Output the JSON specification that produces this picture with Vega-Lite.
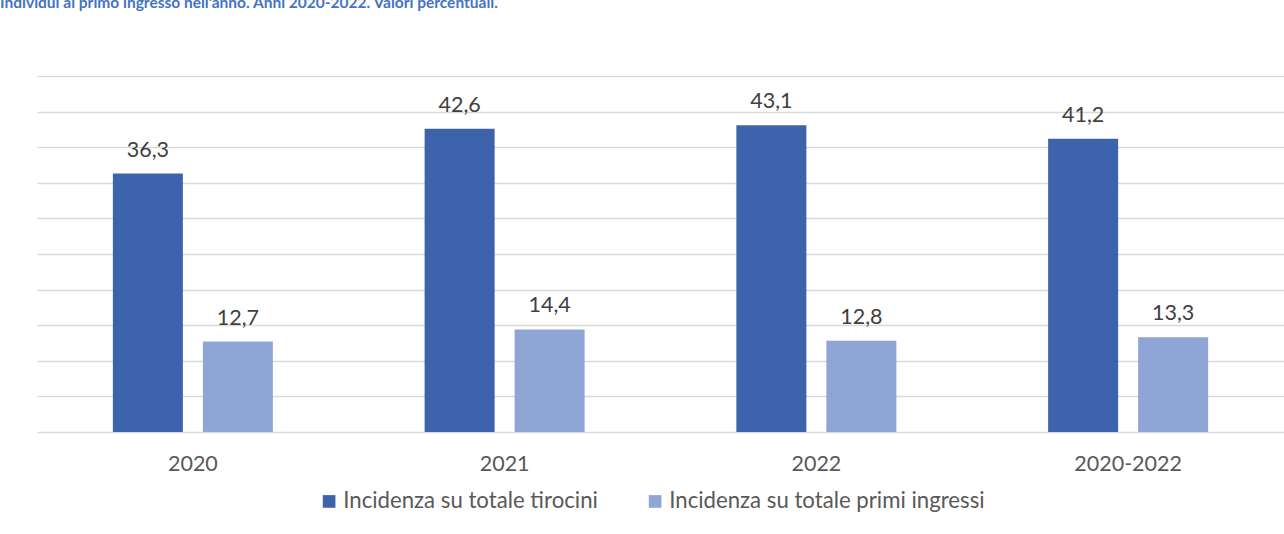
{
  "$schema": "https://vega.github.io/schema/vega-lite/v6.json",
  "autosize": {"type": "none"},
  "width": 1247,
  "height": 356,
  "padding": {"left": 37, "top": 76, "right": 0, "bottom": 102},
  "background": "white",
  "title": {
    "text": "Individui al primo ingresso nell'anno. Anni 2020-2022. Valori percentuali.",
    "anchor": "start",
    "frame": "group",
    "dx": -37,
    "offset": 65,
    "font": "Lato",
    "fontSize": 15.5,
    "fontWeight": "bold",
    "color": "#4472C4"
  },
  "data": {
    "values": [
      {"anno": "2020", "serie": "Incidenza su totale tirocini", "valore": 36.3, "etichetta": "36,3"},
      {"anno": "2020", "serie": "Incidenza su totale primi ingressi", "valore": 12.7, "etichetta": "12,7"},
      {"anno": "2021", "serie": "Incidenza su totale tirocini", "valore": 42.6, "etichetta": "42,6"},
      {"anno": "2021", "serie": "Incidenza su totale primi ingressi", "valore": 14.4, "etichetta": "14,4"},
      {"anno": "2022", "serie": "Incidenza su totale tirocini", "valore": 43.1, "etichetta": "43,1"},
      {"anno": "2022", "serie": "Incidenza su totale primi ingressi", "valore": 12.8, "etichetta": "12,8"},
      {"anno": "2020-2022", "serie": "Incidenza su totale tirocini", "valore": 41.2, "etichetta": "41,2"},
      {"anno": "2020-2022", "serie": "Incidenza su totale primi ingressi", "valore": 13.3, "etichetta": "13,3"}
    ]
  },
  "encoding": {
    "x": {
      "field": "anno",
      "type": "nominal",
      "sort": ["2020", "2021", "2022", "2020-2022"],
      "scale": {"paddingInner": 0, "paddingOuter": 0},
      "axis": {
        "title": null,
        "labelAngle": 0,
        "labelFont": "Lato",
        "labelFontSize": 21.5,
        "labelColor": "#595959",
        "labelPadding": 21,
        "ticks": false,
        "domainColor": "#D9D9D9",
        "domainWidth": 1.5,
        "grid": false
      }
    },
    "xOffset": {
      "field": "serie",
      "type": "nominal",
      "sort": ["Incidenza su totale tirocini", "Incidenza su totale primi ingressi"],
      "scale": {"paddingInner": 0.222, "paddingOuter": 0.843}
    },
    "y": {
      "field": "valore",
      "type": "quantitative",
      "scale": {"domain": [0, 50], "nice": false},
      "axis": {
        "title": null,
        "labels": false,
        "ticks": false,
        "domain": false,
        "values": [5, 10, 15, 20, 25, 30, 35, 40, 45, 50],
        "gridColor": "#D9D9D9",
        "gridWidth": 1.5
      }
    }
  },
  "layer": [
    {
      "mark": {"type": "bar"},
      "encoding": {
        "color": {
          "field": "serie",
          "type": "nominal",
          "sort": ["Incidenza su totale tirocini", "Incidenza su totale primi ingressi"],
          "scale": {"range": ["#3C63AC", "#8FA5D5"]},
          "legend": {
            "title": null,
            "orient": "none",
            "legendX": 281,
            "legendY": 414,
            "direction": "horizontal",
            "symbolType": "square",
            "symbolSize": 160,
            "symbolStrokeWidth": 0,
            "labelFont": "Lato",
            "labelFontSize": 22.2,
            "labelColor": "#595959",
            "labelLimit": 0,
            "columnPadding": 46,
            "labelOffset": 3
          }
        }
      }
    },
    {
      "mark": {
        "type": "text",
        "baseline": "alphabetic",
        "dy": -17,
        "font": "Lato",
        "fontSize": 21.5,
        "color": "#404040"
      },
      "encoding": {
        "text": {"field": "etichetta"}
      }
    }
  ],
  "config": {
    "view": {"stroke": null}
  }
}
